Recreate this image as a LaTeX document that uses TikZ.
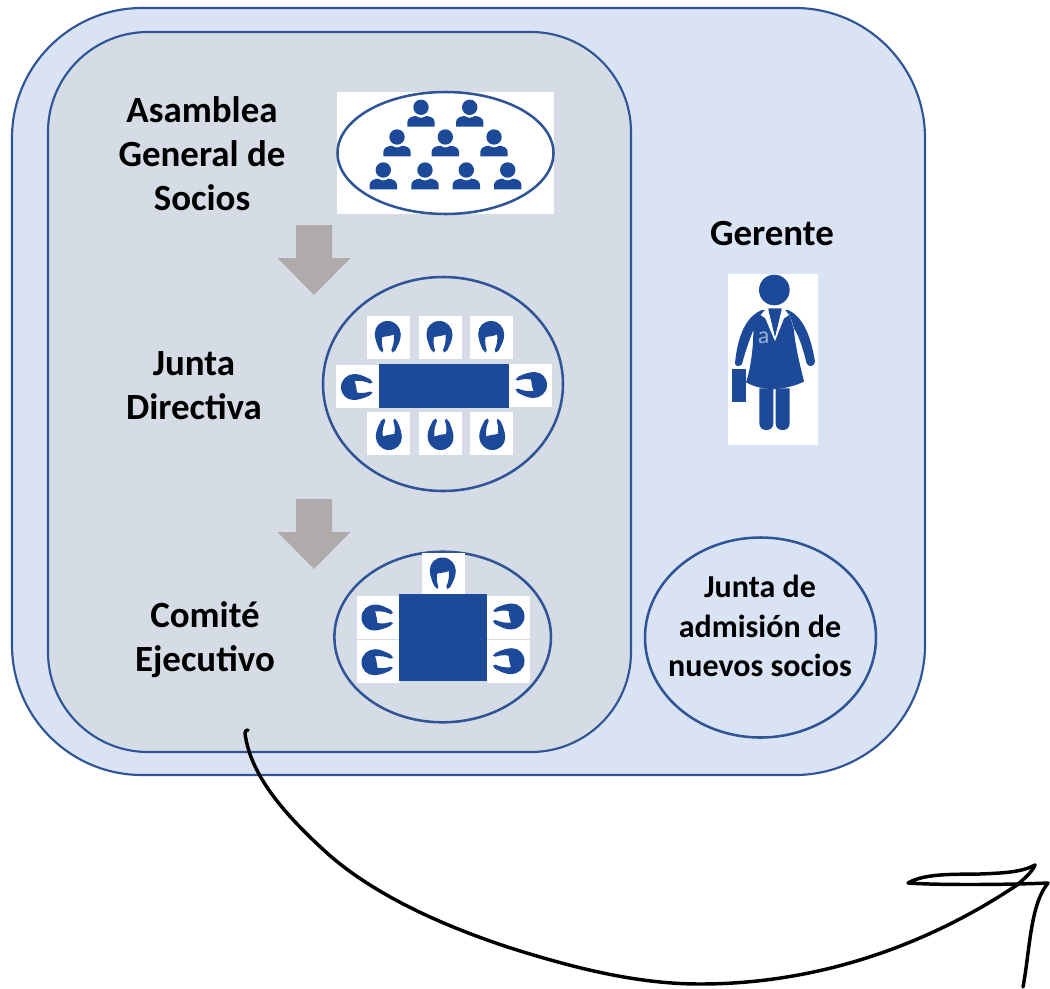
\documentclass[tikz,border=0pt]{standalone}
\usepackage{fontspec}
\setmainfont{Carlito}
\definecolor{edgeblue}{HTML}{2F5597}
\definecolor{iconblue}{HTML}{1C4A98}
\definecolor{outerfill}{HTML}{DAE3F3}
\definecolor{innerfill}{HTML}{D6DCE5}
\definecolor{arrowgrey}{HTML}{AFABAB}
\tikzset{
  panel/.style={draw=edgeblue,line width=1.6pt},
  ring/.style={draw=edgeblue,line width=1.9pt},
  label/.style={font=\bfseries\fontsize{27.7}{33}\selectfont,align=center,inner sep=0pt,text=black},
  smalllabel/.style={font=\bfseries\fontsize{24}{29.5}\selectfont,align=center,inner sep=0pt,text=black},
  ink/.style={draw=black,line width=2.6pt,line cap=round,line join=round},
  member/.pic={
    \fill[iconblue] (0,0) circle (7.7);
    \fill[iconblue] (-13.7,19.3) -- (-13.7,15) .. controls (-13.7,10.5) and (-9,9) .. (-5,8.7)
      .. controls (-2,11) and (2,11) .. (5,8.7) .. controls (9,9) and (13.7,10.5) .. (13.7,15) -- (13.7,19.3) -- cycle;
  },
  seat/.pic={
    \fill[white] (-21.5,-21.5) rectangle (21.5,21.5);
    \fill[iconblue] (-0.5,-16.5) .. controls (7,-16.5) and (12.5,-10) .. (12.5,-3)
      .. controls (12.5,3) and (9.5,8) .. (7,13) -- (4,15) -- (3,12.5)
      .. controls (5,8) and (6.2,3) .. (5.5,-3) .. controls (2,-1.5) and (-3,-1) .. (-6,-0.5)
      .. controls (-7,4) and (-6.5,8) .. (-5,12.5) -- (-6,15) -- (-9,12)
      .. controls (-12,6) and (-13.5,0) .. (-13.5,-4) .. controls (-13.5,-11) and (-8,-16.5) .. (-0.5,-16.5) -- cycle;
  },
  blockarrow/.pic={
    \fill[arrowgrey] (-18,0) -- (18,0) -- (18,33) -- (36.5,33) -- (0,70) -- (-36.5,33) -- (-18,33) -- cycle;
  }
}
\begin{document}
\begin{tikzpicture}[x=0.75pt,y=-0.75pt]
\useasboundingbox (0,0) rectangle (1050,989);
\fill[white] (0,0) rectangle (1050,989);

% panels
\draw[panel,fill=outerfill,rounded corners=97.5pt] (12,8) rectangle (925,775);
\draw[panel,fill=innerfill,rounded corners=75pt] (48,32) rectangle (631,752);

% Asamblea
\node[label] (asamblea) at (202,154) {Asamblea\\General de\\Socios};
\fill[white] (337,92) rectangle (554,214);
\draw[ring] (445.5,153) ellipse [x radius=108,y radius=61];
\foreach \px/\py in {421/107.3,469.7/107.3,397/137,445.3/137,494/137,383.3/170,425/170,466.3/170,507.7/170}
  \pic at (\px,\py) {member};

% arrows
\pic at (314,225) {blockarrow};
\pic at (314,499) {blockarrow};

% Junta directiva
\node[label] (junta) at (194,386) {Junta\\Directiva};
\draw[ring] (443,384) ellipse [x radius=120,y radius=107];
\foreach \px in {388.3,440,491.7} {
  \pic at (\px,337.5) {seat};
  \pic[rotate=180] at (\px,433.5) {seat};
}
\pic[rotate=90] at (357.5,386.5) {seat};
\pic[rotate=-90] at (530.5,385.5) {seat};
\fill[iconblue] (379,364) rectangle (509,408);

% Comite
\node[label] (comite) at (205,640) {Comité\\Ejecutivo};
\draw[ring] (442.7,637) ellipse [x radius=108.3,y radius=85.3];
\pic at (443.3,574) {seat};
\foreach \py in {617,661.7} {
  \pic[rotate=90] at (378,\py) {seat};
  \pic[rotate=-90] at (508,\py) {seat};
}
\fill[iconblue] (399.3,594.3) rectangle (486.7,680.7);

% Gerente
\node[label] (gerente) at (772,234) {Gerente};
\fill[white] (728,274) rectangle (818,445);
\begin{scope}[shift={(720,265)},x=0.25pt,y=-0.25pt]
  \fill[iconblue] (163,75) circle (46);
  % legs
  \fill[iconblue] (118,370) -- (160,370) -- (160,475) .. controls (160,502) and (118,502) .. (118,475) -- cycle;
  \fill[iconblue] (167,370) -- (209,370) -- (209,475) .. controls (209,502) and (167,502) .. (167,475) -- cycle;
  % case
  \fill[iconblue] (35,312) -- (78,312) -- (78,410) -- (35,410) -- cycle;
  % dress with left arm
  \fill[iconblue] (125,135) .. controls (90,150) and (55,190) .. (45,295)
    .. controls (46,305) and (58,305) .. (66,298) .. controls (72,270) and (90,220) .. (100,195)
    .. controls (100,250) and (92,310) .. (78,352)
    .. controls (130,380) and (190,378) .. (252,350)
    .. controls (240,300) and (225,240) .. (222,195)
    -- (205,135) -- cycle;
  % right arm
  \fill[iconblue] (205,135) .. controls (245,155) and (270,200) .. (285,290)
    .. controls (284,305) and (265,308) .. (260,295)
    .. controls (250,255) and (238,215) .. (222,190) -- cycle;
  % lapels
  \fill[white] (122,150) -- (135,135) -- (144,130) -- (165,215) -- (186,130) -- (195,135) -- (207,150) -- (192,160) -- (165,228) -- (136,160) -- cycle;
  \fill[iconblue] (145,130) -- (185,130) -- (165,215) -- cycle;
  \node[text=iconblue!45!white,inner sep=0pt,font=\fontsize{18}{18}\selectfont] (mark) at (131,218) {a};
\end{scope}

% Junta de admision
\draw[ring] (760.5,637.5) ellipse [x radius=115.5,y radius=100];
\node[smalllabel] (admision) at (760,626) {Junta de\\admisión de\\nuevos socios};

% hand drawn curve
\coordinate (inkstart) at (248,730);
\coordinate (inktip) at (1035,865);
\coordinate (inkback) at (908,883);
\coordinate (inkcorner) at (1048,883);
\coordinate (inkend) at (1023,987);
\draw[ink] (inkstart) .. controls (246,730) and (245,731) .. (245,733)
  .. controls (250,775) and (285,815) .. (327,853)
  .. controls (375,896) and (450,930) .. (530,954)
  .. controls (590,972) and (645,984) .. (700,984)
  .. controls (840,984) and (950,930) .. (1017,885)
  .. controls (1025,878) and (1032,872) .. (inktip);
\draw[ink] (inktip) .. controls (1022,872) and (1005,873) .. (980,874)
  .. controls (955,874.5) and (925,873) .. (inkback)
  .. controls (935,885) and (1000,885) .. (inkcorner)
  .. controls (1030,905) and (1030,950) .. (inkend);
\end{tikzpicture}
\end{document}
